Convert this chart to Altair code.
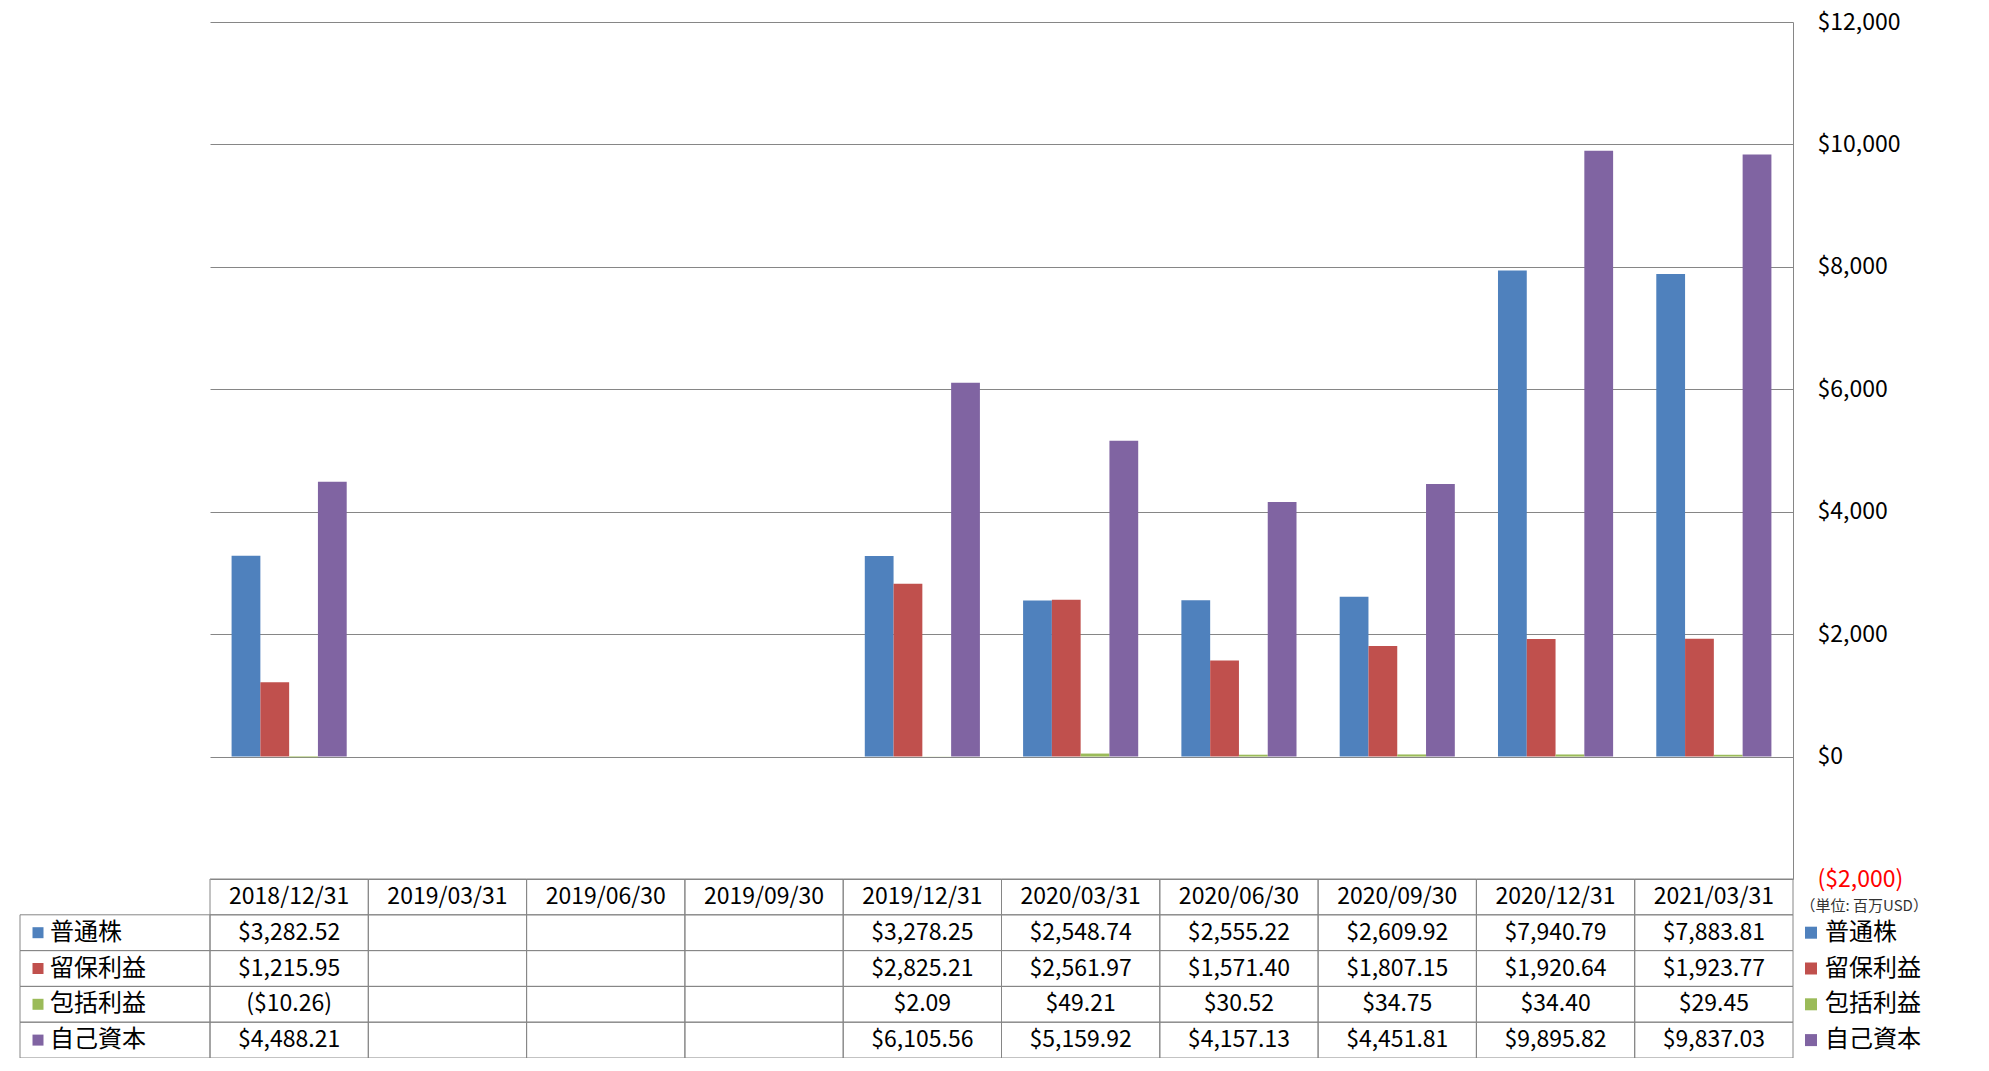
import altair as alt
import pandas as pd

# ---- data ----
dates = ["2018/12/31", "2019/03/31", "2019/06/30", "2019/09/30", "2019/12/31",
         "2020/03/31", "2020/06/30", "2020/09/30", "2020/12/31", "2021/03/31"]
series_names = ["普通株", "留保利益", "包括利益", "自己資本"]
common_stock = [3282.52, None, None, None, 3278.25, 2548.74, 2555.22, 2609.92, 7940.79, 7883.81]
retained_earnings = [1215.95, None, None, None, 2825.21, 2561.97, 1571.40, 1807.15, 1920.64, 1923.77]
comprehensive_income = [-10.26, None, None, None, 2.09, 49.21, 30.52, 34.75, 34.40, 29.45]
equity = [4488.21, None, None, None, 6105.56, 5159.92, 4157.13, 4451.81, 9895.82, 9837.03]
y_ticks = [-2000, 0, 2000, 4000, 6000, 8000, 10000, 12000]
unit_label = "（単位: 百万USD）"

colors = ["#4F81BD", "#C0504D", "#9BBB59", "#8064A2"]
FONT = "Noto Sans CJK JP"
GRID = "#868686"

W, H = 1583, 857
ROW_H = 35.8
ROW_TOP, ROW_BOTTOM = H, H + 5 * ROW_H
rows = ["header"] + series_names


def fmt(v):
    if v < 0:
        return f"(${-v:,.2f})"
    return f"${v:,.2f}"


records = []
for s, vals in zip(series_names, [common_stock, retained_earnings, comprehensive_income, equity]):
    for d, v in zip(dates, vals):
        if v is not None:
            records.append({"date": d, "series": s, "value": v, "label": fmt(v)})
bars_df = pd.DataFrame(records)
cells_df = pd.DataFrame([{"date": d, "row": r} for d in dates for r in rows])
header_df = pd.DataFrame({"date": dates, "row": ["header"] * len(dates)})
rowlab_df = pd.DataFrame({"row": series_names})

x_scale = alt.Scale(domain=dates, paddingInner=0, paddingOuter=0)
row_scale = alt.Scale(domain=rows, range=[ROW_TOP, ROW_BOTTOM], paddingInner=0, paddingOuter=0)
color_scale = alt.Scale(domain=series_names, range=colors)

X = alt.X("date:N", scale=x_scale, axis=None)

bars = alt.Chart(bars_df).mark_bar().encode(
    x=X,
    xOffset=alt.XOffset("series:N", scale=alt.Scale(domain=series_names, paddingInner=0, paddingOuter=0.75)),
    y=alt.Y("value:Q",
            scale=alt.Scale(domain=[-2000, 12000], nice=False, zero=False),
            axis=alt.Axis(
                orient="right", values=y_ticks,
                labelExpr="datum.value < 0 ? '($' + format(-datum.value, ',') + ')' : '$' + format(datum.value, ',')",
                labelColor=alt.condition("datum.value < 0", alt.value("#FF0000"), alt.value("#000000")),
                labelFont=FONT, labelFontSize=23, labelPadding=24, labelFlush=False,
                labelOverlap=False, labelAlign="left", labelBaseline="middle",
                ticks=False, tickSize=0,
                domain=True, domainColor=GRID, domainWidth=1,
                grid=True, gridColor=GRID, gridWidth=1, gridOpacity=1,
                title=unit_label, titleAngle=0, titleAlign="left", titleBaseline="middle",
                titleX=7, titleY=H + 26.5, titleFont=FONT, titleFontSize=15,
                titleFontWeight="normal", titleColor="#333333",
            )),
    color=alt.Color("series:N", scale=color_scale,
                    legend=alt.Legend(orient="none", legendX=1589, legendY=ROW_TOP + 1.5 * ROW_H - 12,
                                      title=None,
                                      symbolType="square", symbolSize=144, symbolStrokeWidth=0,
                                      labelFont=FONT, labelFontSize=24, labelOffset=2,
                                      rowPadding=ROW_H - 24, padding=0, labelColor="#000000",
                                      labelLimit=0, direction="vertical")),
)

cells = alt.Chart(cells_df).mark_rect(fillOpacity=0, stroke=GRID, strokeWidth=1).encode(
    x=X, y=alt.Y("row:N", scale=row_scale, axis=None))

left_cells = alt.Chart(rowlab_df).mark_rect(fillOpacity=0, stroke=GRID, strokeWidth=1).encode(
    x=alt.value(-190), x2=alt.value(0), y=alt.Y("row:N", scale=row_scale, axis=None))

left_squares = alt.Chart(rowlab_df).mark_square(size=121, opacity=1).encode(
    x=alt.value(-172), y=alt.Y("row:N", scale=row_scale, axis=None),
    color=alt.Color("row:N", scale=color_scale, legend=None))

left_labels = alt.Chart(rowlab_df).mark_text(align="left", baseline="middle", font=FONT,
                                             fontSize=24, color="#000000").encode(
    x=alt.value(-160), y=alt.Y("row:N", scale=row_scale, axis=None), text="row:N")

header = alt.Chart(header_df).mark_text(baseline="middle", font=FONT, fontSize=23,
                                        color="#000000").encode(
    x=X, y=alt.Y("row:N", scale=row_scale, axis=None), text="date:N")

values = alt.Chart(bars_df).mark_text(baseline="middle", font=FONT, fontSize=23,
                                      color="#000000").encode(
    x=X, y=alt.Y("series:N", scale=row_scale, axis=None), text="label:N")

chart = alt.layer(cells, left_cells, header, values, left_squares, left_labels, bars).resolve_scale(
    y="independent", color="independent"
).properties(
    width=W, height=H,
    autosize=alt.AutoSizeParams(type="none"),
    padding={"left": 202, "top": 14, "right": 188, "bottom": 179},
).configure_view(stroke=None)

chart.save("out.html", embed_options={"renderer": "svg", "actions": False})
